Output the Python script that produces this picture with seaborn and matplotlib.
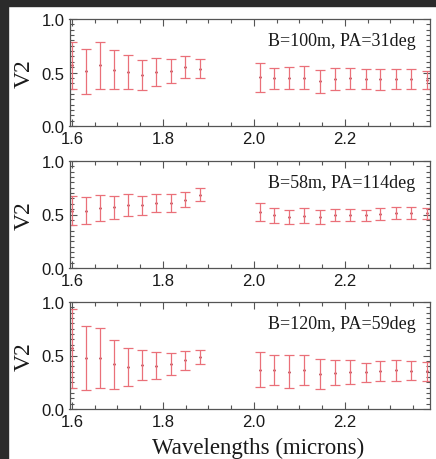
import numpy as np
import pandas as pd
import matplotlib
matplotlib.use("Agg")
import matplotlib.pyplot as plt
from matplotlib.ticker import MultipleLocator
import seaborn as sns

# -----------------------------
# Data
# -----------------------------
wl_h = [1.601, 1.631, 1.662, 1.692, 1.723, 1.754, 1.785, 1.817, 1.849, 1.881]
wl_k = [2.013, 2.044, 2.078, 2.110, 2.145, 2.178, 2.211, 2.246, 2.278, 2.312, 2.346, 2.381]

labels = ["B=100m, PA=31deg", "B=58m, PA=114deg", "B=120m, PA=59deg"]

v2_b100 = [0.568, 0.510, 0.568, 0.526, 0.506, 0.480, 0.503, 0.515, 0.550, 0.536,
           0.457, 0.445, 0.450, 0.450, 0.419, 0.440, 0.445, 0.437, 0.438, 0.442, 0.442, 0.426]
err_b100 = [0.218, 0.207, 0.218, 0.184, 0.157, 0.140, 0.130, 0.115, 0.104, 0.086,
            0.136, 0.096, 0.100, 0.107, 0.107, 0.100, 0.096, 0.095, 0.097, 0.093, 0.093, 0.084]

v2_b58 = [0.535, 0.535, 0.560, 0.566, 0.588, 0.585, 0.605, 0.609, 0.637, 0.686,
          0.524, 0.491, 0.477, 0.489, 0.475, 0.495, 0.495, 0.492, 0.504, 0.511, 0.514, 0.510]
err_b58 = [0.135, 0.125, 0.120, 0.110, 0.100, 0.085, 0.086, 0.081, 0.071, 0.063,
           0.084, 0.066, 0.068, 0.071, 0.066, 0.055, 0.055, 0.052, 0.054, 0.055, 0.052, 0.048]

v2_b120 = [0.567, 0.478, 0.475, 0.417, 0.396, 0.407, 0.406, 0.419, 0.457, 0.488,
           0.369, 0.366, 0.350, 0.366, 0.325, 0.341, 0.345, 0.342, 0.353, 0.361, 0.358, 0.352]
err_b120 = [0.370, 0.298, 0.278, 0.230, 0.177, 0.140, 0.125, 0.100, 0.088, 0.063,
            0.163, 0.138, 0.153, 0.138, 0.138, 0.113, 0.111, 0.089, 0.094, 0.095, 0.089, 0.086]

wl = wl_h + wl_k
panels = [(labels[0], v2_b100, err_b100),
          (labels[1], v2_b58, err_b58),
          (labels[2], v2_b120, err_b120)]

# -----------------------------
# Style
# -----------------------------
sns.set_style("ticks")
plt.rcParams["font.family"] = ["Liberation Sans", "DejaVu Sans"]

bar_color = "#ea7079"
dot_color = "#a01020"
serif = ["Liberation Serif", "DejaVu Serif"]

fig = plt.figure(figsize=(4.36, 4.6), dpi=100)
fig.patch.set_facecolor("white")

# dark frame strips of the screenshot
fig.patches.append(plt.Rectangle((0, 0), 7.5 / 436, 1, transform=fig.transFigure,
                                 color="#2b2b2b", zorder=-1))
fig.patches.append(plt.Rectangle((0, 1 - 6.5 / 460), 1, 6.5 / 460, transform=fig.transFigure,
                                 color="#2b2b2b", zorder=-1))

left, width = 69.5 / 436, (430 - 69.5) / 436
tops = [20, 162, 303]
height = 107 / 460

for i, (label, v2, err) in enumerate(panels):
    bottom = 1 - (tops[i] + 107) / 460
    ax = fig.add_axes([left, bottom, width, height])
    df = pd.DataFrame({"wl": wl, "v2": v2, "err": err})

    ax.errorbar(df["wl"], df["v2"], yerr=df["err"], fmt="none", ecolor=bar_color,
                elinewidth=0.9, capsize=3.8, capthick=0.9, clip_on=True)
    sns.scatterplot(data=df, x="wl", y="v2", ax=ax, color=dot_color, s=3,
                    linewidth=0, legend=False)

    ax.set_xlim(1.5945, 2.387)
    ax.set_ylim(0, 1)
    ax.xaxis.set_minor_locator(MultipleLocator(0.05))
    ax.yaxis.set_minor_locator(MultipleLocator(0.05))
    ax.set_xticks([1.6, 1.8, 2.0, 2.2])
    ax.set_xticklabels(["1.6", "1.8", "2.0", "2.2"])
    ax.set_yticks([0.0, 0.5, 1.0])
    ax.set_yticklabels(["0.0", "0.5", "1.0"])
    ax.tick_params(which="both", direction="in", top=True, right=True,
                   color="#555555", width=0.8, labelsize=12, labelcolor="#1a1a1a")
    ax.tick_params(which="major", length=5, pad=3.5)
    ax.tick_params(which="minor", length=2.8)
    for s in ax.spines.values():
        s.set_color("#555555")
        s.set_linewidth(0.9)

    ax.set_xlabel("")
    ax.set_ylabel("V2", family=serif, fontsize=17, color="#1a1a1a", labelpad=5)
    ax.text(0.96, 0.8, label, transform=ax.transAxes, ha="right", va="center",
            family=serif, fontsize=13, color="#1a1a1a")

fig.text(258 / 436, 1 - 448 / 460, "Wavelengths (microns)", ha="center",
         va="center", family=serif, fontsize=16.5, color="#1a1a1a")

fig.savefig("out.png", dpi=100)
